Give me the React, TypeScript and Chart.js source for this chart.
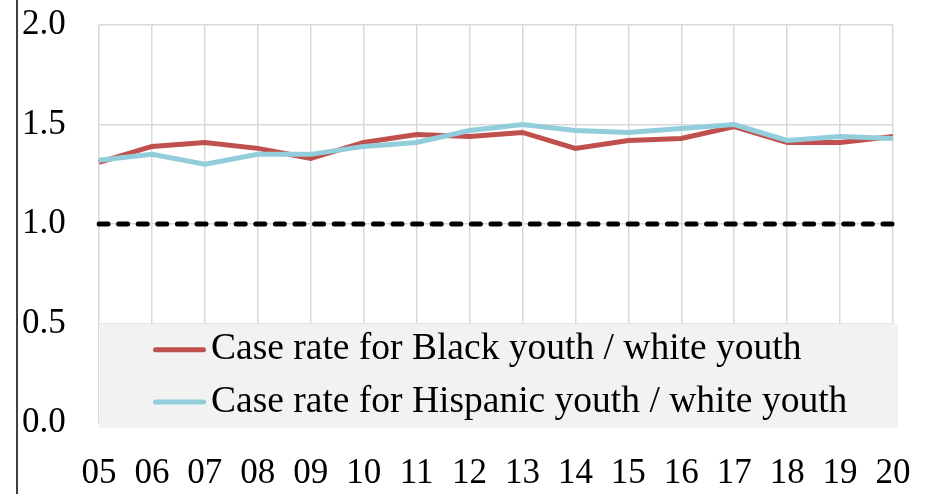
import React, { useEffect, useRef } from "react";
import { Chart, registerables } from "chart.js";

Chart.register(...registerables);

const YEARS = ["05", "06", "07", "08", "09", "10", "11", "12", "13", "14", "15", "16", "17", "18", "19", "20"];
const BLACK_RATIO = [1.31, 1.39, 1.41, 1.38, 1.33, 1.41, 1.45, 1.44, 1.46, 1.38, 1.42, 1.43, 1.49, 1.41, 1.41, 1.44];
const HISPANIC_RATIO = [1.32, 1.35, 1.3, 1.35, 1.35, 1.39, 1.41, 1.47, 1.5, 1.47, 1.46, 1.48, 1.5, 1.42, 1.44, 1.43];
const PARITY = [1, 1, 1, 1, 1, 1, 1, 1, 1, 1, 1, 1, 1, 1, 1, 1];
const BLACK_LABEL = "Case rate for Black youth / white youth";
const HISPANIC_LABEL = "Case rate for Hispanic youth / white youth";
const Y_MIN = 0;
const Y_MAX = 2;
const Y_STEP = 0.5;

const FONT_FAMILY = "'Liberation Serif', 'Times New Roman', serif";
const TICK_FONT_SIZE = 35;
const LEGEND_FONT_SIZE = 37.5;
const RED = "#C0504D";
const BLUE = "#92CDDC";

const legendBoxPlugin = {
  id: "legendBox",
  beforeDatasetsDraw(chart: any) {
    const { ctx, chartArea, scales } = chart;
    const top = scales.y.getPixelForValue(0.5);
    const left = chartArea.left;
    const right = chartArea.right + 5;
    const bottom = chartArea.bottom + 5;
    ctx.save();
    ctx.fillStyle = "#f2f2f2";
    ctx.fillRect(left, top, right - left, bottom - top);
    const items = chart.data.datasets.filter((d: any) => d.label);
    const rowH = (bottom - top) / items.length;
    items.forEach((d: any, i: number) => {
      const y = top + rowH * (i + 0.5);
      ctx.beginPath();
      ctx.strokeStyle = d.borderColor;
      ctx.lineWidth = 5;
      ctx.lineCap = "round";
      ctx.moveTo(left + 56.5, y);
      ctx.lineTo(left + 104.5, y);
      ctx.stroke();
      ctx.fillStyle = "#000";
      ctx.font = `${LEGEND_FONT_SIZE}px ${FONT_FAMILY}`;
      ctx.textAlign = "left";
      ctx.textBaseline = "middle";
      ctx.fillText(d.label, left + 112, y);
    });
    ctx.restore();
  },
};

const axisLinePlugin = {
  id: "axisLine",
  afterDraw(chart: any) {
    const { ctx, scales } = chart;
    const x = scales.y.left - 5;
    ctx.save();
    ctx.strokeStyle = "#000";
    ctx.lineWidth = 1.5;
    ctx.beginPath();
    ctx.moveTo(x, 0);
    ctx.lineTo(x, chart.height);
    ctx.stroke();
    ctx.restore();
  },
};

export default function App() {
  const ref = useRef<HTMLCanvasElement | null>(null);

  useEffect(() => {
    if (!ref.current) return;
    const chart = new Chart(ref.current, {
      type: "line",
      data: {
        labels: YEARS,
        datasets: [
          {
            label: BLACK_LABEL,
            data: BLACK_RATIO,
            borderColor: RED,
            backgroundColor: RED,
            borderWidth: 5,
            pointRadius: 0,
            tension: 0,
            order: 1,
          },
          {
            label: HISPANIC_LABEL,
            data: HISPANIC_RATIO,
            borderColor: BLUE,
            backgroundColor: BLUE,
            borderWidth: 5,
            pointRadius: 0,
            tension: 0,
            order: 0,
          },
          {
            label: "",
            data: PARITY,
            borderColor: "#000",
            borderWidth: 5,
            borderDash: [9, 10.6],
            borderCapStyle: "round",
            pointRadius: 0,
            order: 2,
          },
        ],
      },
      options: {
        responsive: false,
        animation: false,
        layout: { padding: { left: 22, right: 34, top: 25, bottom: 0 } },
        plugins: { legend: { display: false }, tooltip: { enabled: false } },
        scales: {
          x: {
            offset: false,
            grid: {
              color: "#d9d9d9",
              lineWidth: 1.5,
              drawTicks: true,
              tickLength: 30,
              tickColor: "rgba(0,0,0,0)",
            },
            border: { display: false },
            ticks: {
              color: "#000",
              padding: 0,
              maxRotation: 0,
              autoSkip: false,
              font: { family: FONT_FAMILY, size: TICK_FONT_SIZE },
            },
            afterFit: (s: any) => {
              s.height = 71;
            },
          },
          y: {
            min: Y_MIN,
            max: Y_MAX,
            grid: { color: "#d9d9d9", lineWidth: 1.5, drawTicks: false },
            border: { display: false },
            ticks: {
              stepSize: Y_STEP,
              color: "#000",
              crossAlign: "far",
              padding: 0,
              font: { family: FONT_FAMILY, size: TICK_FONT_SIZE },
              callback: (v: any) => Number(v).toFixed(1),
            },
            afterFit: (s: any) => {
              s.width = 77;
            },
          },
        },
      },
      plugins: [legendBoxPlugin, axisLinePlugin],
    });
    return () => chart.destroy();
  }, []);

  return (
    <div style={{ position: "fixed", left: 0, top: 0, width: 927, height: 494, background: "#fff" }}>
      <canvas ref={ref} width={927} height={494} style={{ width: 927, height: 494 }} />
    </div>
  );
}
